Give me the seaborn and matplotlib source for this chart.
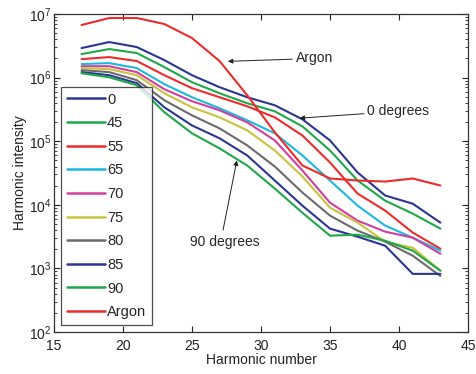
import numpy as np
import pandas as pd
import matplotlib
matplotlib.use("Agg")
import matplotlib.pyplot as plt
import seaborn as sns

# Odd harmonic orders
harmonics = [17, 19, 21, 23, 25, 27, 29, 31, 33, 35, 37, 39, 41, 43]

# Harmonic intensity per polarisation angle (degrees) and for argon
deg_0 = [2.91e6, 3.62e6, 3.02e6, 1.88e6, 1.09e6, 7.06e5, 4.91e5, 3.67e5, 2.21e5, 1.03e5, 3.22e4, 1.40e4, 1.04e4, 5.24e3]
deg_45 = [2.34e6, 2.81e6, 2.43e6, 1.46e6, 8.46e5, 5.67e5, 3.95e5, 2.95e5, 1.71e5, 7.16e4, 2.41e4, 1.16e4, 7.26e3, 4.22e3]
deg_55 = [1.95e6, 2.10e6, 1.82e6, 1.09e6, 6.81e5, 4.91e5, 3.54e5, 2.37e5, 1.23e5, 4.63e4, 1.50e4, 8.10e3, 3.65e3, 2.04e3]
deg_65 = [1.63e6, 1.69e6, 1.41e6, 7.87e5, 4.91e5, 3.29e5, 2.13e5, 1.33e5, 5.97e4, 2.41e4, 9.70e3, 4.70e3, 3.04e3, 1.90e3]
deg_70 = [1.51e6, 1.51e6, 1.22e6, 6.56e5, 4.25e5, 3.06e5, 1.98e5, 1.03e5, 3.46e4, 1.08e4, 5.64e3, 3.78e3, 3.04e3, 1.70e3]
deg_75 = [1.41e6, 1.36e6, 1.09e6, 5.67e5, 3.41e5, 2.37e5, 1.48e5, 7.16e4, 2.79e4, 9.00e3, 5.24e3, 2.63e3, 2.11e3, 9.20e2]
deg_80 = [1.31e6, 1.22e6, 9.10e5, 4.40e5, 2.55e5, 1.59e5, 8.60e4, 4.00e4, 1.56e4, 6.76e3, 3.92e3, 2.63e3, 1.58e3, 7.60e2]
deg_85 = [1.22e6, 1.09e6, 8.17e5, 3.41e5, 1.77e5, 1.11e5, 5.97e4, 2.41e4, 9.70e3, 4.22e3, 3.15e3, 2.27e3, 8.20e2, 8.20e2]
deg_90 = [1.17e6, 1.01e6, 7.59e5, 2.85e5, 1.33e5, 7.70e4, 4.15e4, 1.80e4, 7.50e3, 3.27e3, 3.39e3, 2.72e3, 1.90e3, 9.20e2]
argon = [6.71e6, 8.65e6, 8.65e6, 6.95e6, 4.18e6, 1.82e6, 5.27e5, 1.38e5, 4.15e4, 2.59e4, 2.41e4, 2.32e4, 2.59e4, 2.01e4]

labels = ["0", "45", "55", "65", "70", "75", "80", "85", "90", "Argon"]
series = [deg_0, deg_45, deg_55, deg_65, deg_70, deg_75, deg_80, deg_85, deg_90, argon]
colors = ["#2b3592", "#1ea84a", "#ee2b2b", "#1cb8dc", "#d23ea0",
          "#c9c33c", "#6b6b6b", "#2b3592", "#1ea84a", "#ee2b2b"]

df = pd.DataFrame({
    "Harmonic number": np.tile(harmonics, len(labels)),
    "Harmonic intensity": np.concatenate(series),
    "series": np.repeat(labels, len(harmonics)),
})

sns.set_theme(style="ticks")
plt.rcParams["font.family"] = ["Liberation Sans", "DejaVu Sans"]
plt.rcParams["mathtext.default"] = "regular"

fig = plt.figure(figsize=(4.77, 3.74), dpi=100)
ax = fig.add_axes([0.1132, 0.1123, 0.8679, 0.8503])

sns.lineplot(data=df, x="Harmonic number", y="Harmonic intensity", hue="series",
             hue_order=labels, palette=dict(zip(labels, colors)),
             linewidth=1.5, ax=ax, legend=False, sort=False)

ax.set_yscale("log")
ax.set_xlim(15, 45)
ax.set_ylim(1e2, 1e7)
ax.set_xticks([15, 20, 25, 30, 35, 40, 45])
ax.tick_params(which="both", direction="in", top=True, right=True,
               labelsize=10, colors="#222222")
ax.tick_params(axis="x", pad=5)
ax.tick_params(axis="y", pad=2)
ax.tick_params(which="major", length=4, width=0.8)
ax.tick_params(which="minor", length=2, width=0.6)
ax.tick_params(axis="x", which="minor", bottom=False, top=False)
for sp in ax.spines.values():
    sp.set_color("#333333")
    sp.set_linewidth(0.9)

ax.set_xlabel("Harmonic number", fontsize=10, labelpad=0, color="#222222")
ax.set_ylabel("Harmonic intensity", fontsize=10, labelpad=1, color="#222222")

handles = [plt.Line2D([], [], color=c, lw=1.8) for c in colors]
leg = ax.legend(handles, labels, loc="lower left", bbox_to_anchor=(0.017, 0.022),
                borderaxespad=0, fontsize=10.5, frameon=True, fancybox=False,
                handlelength=2.6, handletextpad=0.15, labelspacing=0.66,
                borderpad=0.4)
leg.get_frame().set_edgecolor("#222222")
leg.get_frame().set_linewidth(0.9)

arrow = dict(arrowstyle="-|>", color="#222222", lw=0.7, mutation_scale=7,
             shrinkA=0, shrinkB=0)
ax.annotate("Argon", xy=(27.6, 1.8e6), xytext=(32.5, 2.0e6),
            fontsize=10, va="center", ha="left", arrowprops=arrow)
ax.annotate("0 degrees", xy=(32.8, 2.3e5), xytext=(37.7, 2.95e5),
            fontsize=10, va="center", ha="left", arrowprops=arrow)
ax.annotate("", xy=(28.25, 5.0e4), xytext=(27.25, 4.0e3), arrowprops=arrow)
ax.text(27.4, 2.6e3, "90 degrees", fontsize=10, va="center", ha="center")

fig.savefig("out.png", dpi=100)
